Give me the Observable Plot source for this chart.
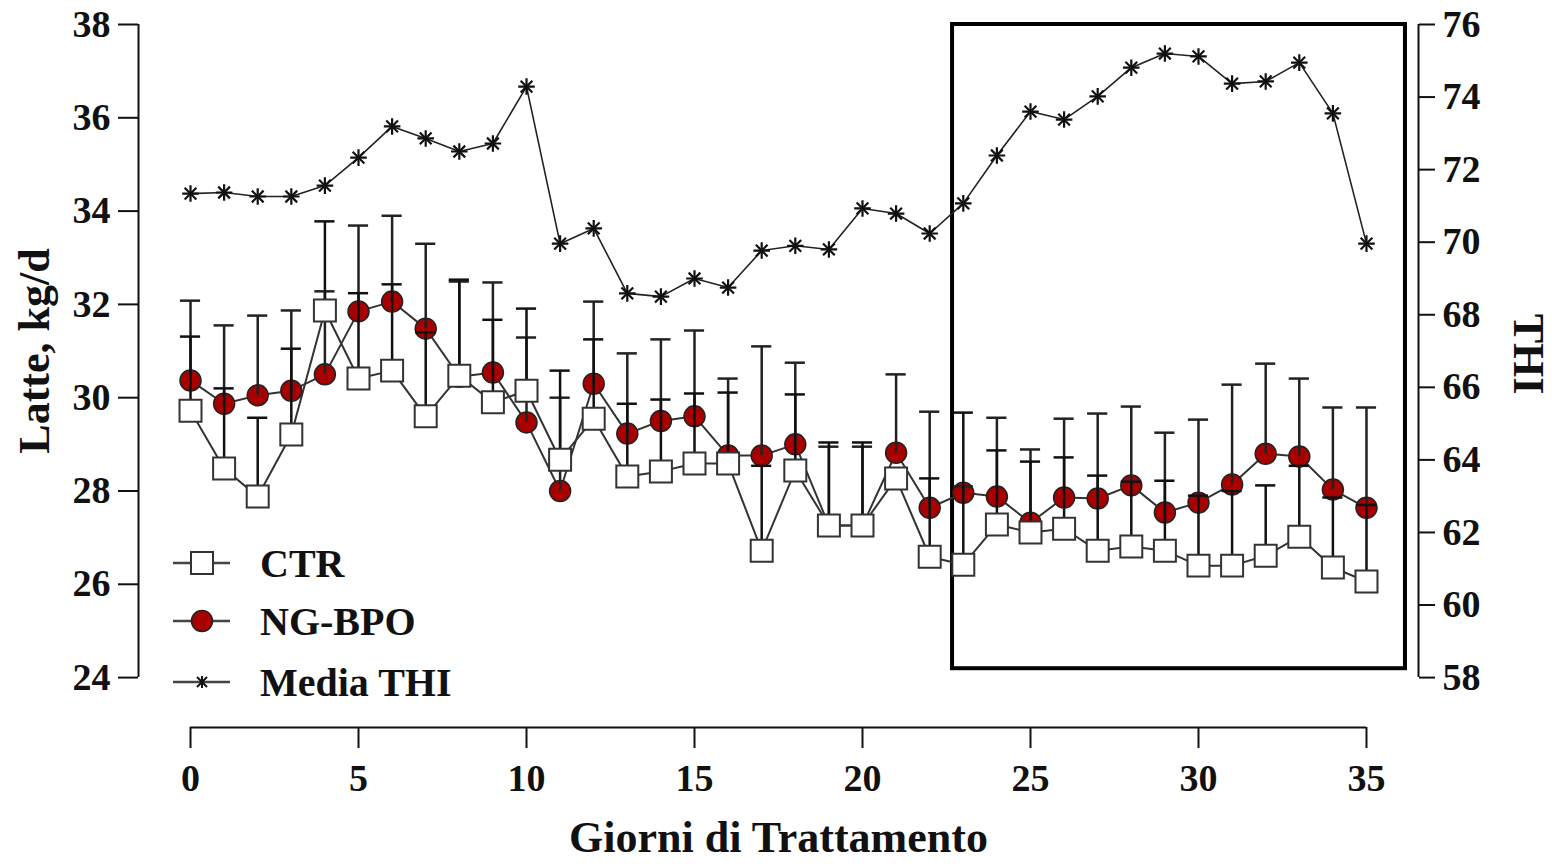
<!DOCTYPE html>
<html>
<head>
<meta charset="utf-8">
<script src="https://cdn.jsdelivr.net/npm/d3@7"></script>
<script src="https://cdn.jsdelivr.net/npm/@observablehq/plot@0.6"></script>
<style>
  body { margin: 0; background: #fff; }
  #wrap { position: relative; width: 1552px; height: 864px; overflow: hidden; }
  .lg { position: absolute; left: 173px; height: 50px; display: flex; align-items: center;
        font-family: "Liberation Serif", "Times New Roman", serif; font-weight: bold; font-size: 40px; color: #111; }
  .lg svg { display: block; margin-right: 30px; }
</style>
</head>
<body>
<div id="wrap">
  <div id="chart"></div>
</div>
<script>
// ---- data ----
const days = [0,1,2,3,4,5,6,7,8,9,10,11,12,13,14,15,16,17,18,19,20,21,22,23,24,25,26,27,28,29,30,31,32,33,34,35];
const ctr = [29.72,28.48,27.88,29.21,31.87,30.41,30.58,29.60,30.47,29.90,30.15,28.67,29.55,28.31,28.42,28.59,28.59,26.72,28.44,27.26,27.26,28.27,26.59,26.42,27.28,27.11,27.19,26.72,26.81,26.72,26.40,26.40,26.61,27.02,26.36,26.06];
const ctrUpper = [31.31,30.20,29.57,31.05,33.78,32.24,32.43,31.40,32.53,31.67,31.91,30.58,31.25,29.87,29.96,30.09,30.11,28.54,30.07,29.04,29.04,28.27,28.27,29.68,28.87,28.63,28.72,28.33,28.20,28.22,27.90,28.00,28.12,28.54,27.86,27.70];
const ng = [30.37,29.87,30.05,30.15,30.50,31.85,32.06,31.48,30.45,30.54,29.47,28.00,30.30,29.23,29.50,29.60,28.76,28.76,29.00,27.26,27.26,28.82,27.64,27.96,27.88,27.32,27.86,27.84,28.12,27.54,27.75,28.14,28.80,28.74,28.03,27.64];
const ngUpper = [32.08,31.55,31.76,31.87,32.28,33.69,33.90,33.30,32.49,32.47,31.29,30.00,32.06,30.95,31.25,31.44,30.41,31.10,30.75,28.95,28.95,30.50,29.70,28.10,29.57,28.89,29.55,29.66,29.81,29.25,29.53,30.28,30.73,30.41,29.79,29.79];
const thi = [71.34,71.37,71.26,71.26,71.56,72.33,73.19,72.86,72.50,72.72,74.29,69.96,70.38,68.59,68.50,69.00,68.75,69.77,69.90,69.80,70.93,70.79,70.24,71.07,72.39,73.60,73.38,74.02,74.81,75.20,75.12,74.37,74.43,74.95,73.55,69.96];

const xTicks = [0,5,10,15,20,25,30,35];
const latteTicks = [24,26,28,30,32,34,36,38];
const thiTicks = [58,60,62,64,66,68,70,72,74,76];
const boxDays = [22.68, 36.16];
const boxLatte = [24.19, 38];

// ---- scales / helpers ----
const latteRange = [24, 38];
const thiRange = [58, 76];
const toLeft = t => latteRange[0] + (t - thiRange[0]) * (latteRange[1] - latteRange[0]) / (thiRange[1] - thiRange[0]);
const fromLeft = v => thiRange[0] + (v - latteRange[0]) * (thiRange[1] - thiRange[0]) / (latteRange[1] - latteRange[0]);

const xDomain = [-1.548, 36.548];
const yDomain = [22.93, 38];

const rows = days.map((d, i) => ({
  day: d, ctr: ctr[i], ctrUp: ctrUpper[i], ng: ng[i], ngUp: ngUpper[i], thiL: toLeft(thi[i])
}));
const capHalf = 0.3;
const F = "Liberation Serif, Times New Roman, serif";

const chart = Plot.plot({
  width: 1552,
  height: 864,
  marginLeft: 138,
  marginRight: 134,
  marginTop: 24,
  marginBottom: 137,
  style: { fontFamily: F, fontWeight: "bold", fontSize: "38px", background: "white", color: "#111", overflow: "visible" },
  x: { domain: xDomain },
  y: { domain: yDomain },
  marks: [
    // axes lines
    Plot.ruleX([xDomain[0]], { y1: latteRange[0], y2: latteRange[1], stroke: "#111", strokeWidth: 2 }),
    Plot.ruleX([xDomain[1]], { y1: latteRange[0], y2: latteRange[1], stroke: "#111", strokeWidth: 2 }),
    Plot.ruleY([yDomain[0]], { x1: xTicks[0], x2: xTicks[xTicks.length - 1], stroke: "#111", strokeWidth: 2 }),
    Plot.axisY(latteTicks, { anchor: "left", tickSize: 20, tickPadding: 8, strokeWidth: 2, label: null, tickFormat: d => d, fontSize: 38 }),
    Plot.axisY(thiTicks.map(toLeft), { anchor: "right", tickSize: 16, tickPadding: 8, strokeWidth: 2, label: null, tickFormat: v => Math.round(fromLeft(v)), fontSize: 38 }),
    Plot.axisX(xTicks, { anchor: "bottom", tickSize: 21, tickPadding: 16, strokeWidth: 2, label: null, tickFormat: d => d, fontSize: 38 }),
    // axis titles
    Plot.text(["Latte, kg/d"], { frameAnchor: "left", textAnchor: "middle", dx: -104, dy: -25, rotate: -90, fontSize: 44, fontWeight: "bold" }),
    Plot.text(["THI"], { frameAnchor: "right", textAnchor: "middle", dx: 110, dy: -22, rotate: 90, fontSize: 44, fontWeight: "bold" }),
    Plot.text(["Giorni di Trattamento"], { frameAnchor: "bottom", textAnchor: "middle", lineAnchor: "middle", dy: 110, fontSize: 44, fontWeight: "bold" }),
    // highlight box
    Plot.rect([{ x1: boxDays[0], x2: boxDays[1], y1: boxLatte[0], y2: boxLatte[1] }], { x1: "x1", x2: "x2", y1: "y1", y2: "y2", fill: "none", stroke: "#000", strokeWidth: 4 }),
    // series lines
    Plot.line(rows, { x: "day", y: "ctr", stroke: "#333", strokeWidth: 2 }),
    Plot.line(rows, { x: "day", y: "ng", stroke: "#333", strokeWidth: 2 }),
    Plot.line(rows, { x: "day", y: "thiL", stroke: "#222", strokeWidth: 1.6 }),
    Plot.dot(rows, { x: "day", y: "thiL", symbol: "plus", r: 5.4, stroke: "#111", strokeWidth: 2.2, fill: "none" }),
    Plot.dot(rows, { x: "day", y: "thiL", symbol: "times", r: 5.4, stroke: "#111", strokeWidth: 2.2, fill: "none" }),
    // NG-BPO circles
    Plot.dot(rows, { x: "day", y: "ng", r: 10.5, fill: "#a80000", stroke: "#222", strokeWidth: 1.5 }),
    // error bars
    Plot.ruleX(rows, { x: "day", y1: "ng", y2: "ngUp", stroke: "#222", strokeWidth: 2.5 }),
    Plot.ruleY(rows, { y: "ngUp", x1: d => d.day - capHalf, x2: d => d.day + capHalf, stroke: "#222", strokeWidth: 2.5 }),
    Plot.ruleX(rows, { x: "day", y1: "ctr", y2: "ctrUp", stroke: "#111", strokeWidth: 2.5 }),
    Plot.ruleY(rows, { y: "ctrUp", x1: d => d.day - capHalf, x2: d => d.day + capHalf, stroke: "#111", strokeWidth: 2.5 }),
    // CTR squares
    Plot.dot(rows, { x: "day", y: "ctr", symbol: "square", r: 12.4, fill: "white", stroke: "#333", strokeWidth: 2 })
  ]
});
document.getElementById("chart").appendChild(chart);

// ---- legend (HTML overlay) ----
const legendItems = [
  { label: "CTR", kind: "square", top: 538 },
  { label: "NG-BPO", kind: "circle", top: 596 },
  { label: "Media THI", kind: "star", top: 657 }
];
const wrap = document.getElementById("wrap");
legendItems.forEach(item => {
  const div = document.createElement("div");
  div.className = "lg";
  div.style.top = item.top + "px";
  let marker = "";
  if (item.kind === "square") marker = '<rect x="18" y="14" width="22" height="22" fill="white" stroke="#333" stroke-width="2"/>';
  if (item.kind === "circle") marker = '<circle cx="29" cy="25" r="10.5" fill="#a80000" stroke="#222" stroke-width="1.5"/>';
  if (item.kind === "star") marker = '<g stroke="#111" stroke-width="2"><line x1="29" y1="19" x2="29" y2="31"/><line x1="24" y1="20" x2="34" y2="30"/><line x1="24" y1="30" x2="34" y2="20"/></g>';
  div.innerHTML = '<svg width="57" height="50"><line x1="0" y1="25" x2="57" y2="25" stroke="#444" stroke-width="2.5"/>' + marker + '</svg><span>' + item.label + '</span>';
  wrap.appendChild(div);
});
</script>
</body>
</html>
